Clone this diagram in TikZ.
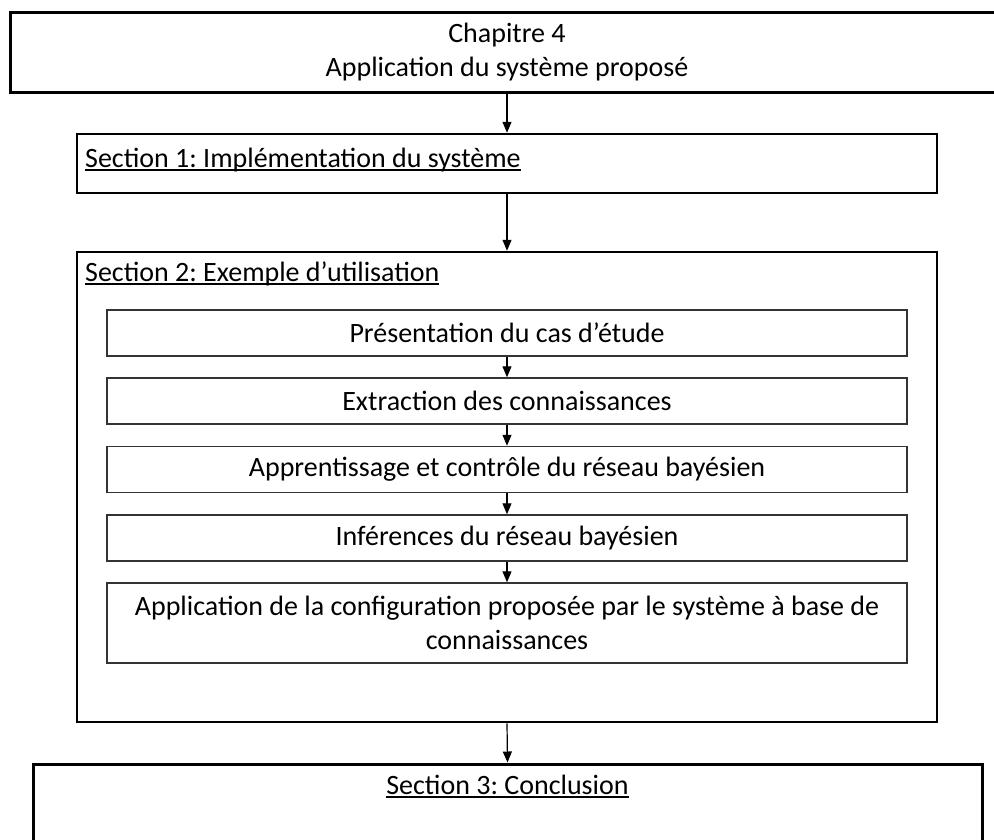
\documentclass[tikz,border=0pt]{standalone}
\usepackage{fontspec}
\setmainfont{Carlito}
\usetikzlibrary{arrows.meta}
\frenchspacing
\newcommand{\ulin}[1]{\setbox0\hbox{#1}\rlap{\rule[-3.5pt]{\wd0}{1.3pt}}\box0}
\begin{document}
\begin{tikzpicture}[x=1pt,y=-1pt,
  txt/.style={font=\fontsize{28}{34}\selectfont\frenchspacing},
  chapbox/.style={draw=black,line width=3pt,txt,align=center,inner sep=0pt},
  secbox/.style={draw=black,line width=2.5pt,inner sep=0pt},
  title/.style={txt,inner sep=0pt},
  innerbox/.style={draw=black!80,line width=1.5pt,txt,align=center,inner sep=0pt,minimum width=800pt},
  arr/.style={line width=1.2pt,-{Triangle[length=11pt,width=9pt]}}]
\clip (0,0) rectangle (994,839);
\fill[white] (0,0) rectangle (994,839);
% chapter box (right edge runs past the picture)
\node[chapbox,minimum width=994pt,minimum height=80pt] (chap) at (507,52)
  {Chapitre 4\\Application du système proposé};
% section 1
\node[secbox,minimum width=860pt,minimum height=59pt] (s1) at (507,163.5) {};
\node[title,anchor=base west] (s1t) at (85,167) {\ulin{Section 1: Implémentation du système}};
% section 2
\node[secbox,minimum width=860pt,minimum height=470pt] (s2) at (507,487) {};
\node[title,anchor=base west] (s2t) at (85,281) {\ulin{Section 2: Exemple d’utilisation}};
% inner boxes
\node[innerbox,minimum height=46pt] (b1) at (507,333) {Présentation du cas d’étude};
\node[innerbox,minimum height=46pt] (b2) at (507,401) {Extraction des connaissances};
\node[innerbox,minimum height=46pt] (b3) at (507,469.5) {Apprentissage et contrôle du réseau bayésien};
\node[innerbox,minimum height=46pt] (b4) at (507,538) {Inférences du réseau bayésien};
\node[innerbox,minimum height=80pt] (b5) at (507,623) {Application de la configuration proposée par le système à base de\\connaissances};
% section 3 (bottom edge runs past the picture)
\node[secbox,line width=3pt,minimum width=949pt,minimum height=96pt] (s3) at (507.5,812) {};
\node[title,anchor=base] (s3t) at (507.5,794) {\ulin{Section 3: Conclusion}};
% connectors
\draw[arr] (chap.south) -- (s1.north);
\draw[arr] (s1.south) -- (s2.north);
\draw[arr] (b1.south) -- (b2.north);
\draw[arr] (b2.south) -- (b3.north);
\draw[arr] (b3.south) -- (b4.north);
\draw[arr] (b4.south) -- (b5.north);
\draw[arr] (s2.south) -- (s3.north);
\end{tikzpicture}
\end{document}
